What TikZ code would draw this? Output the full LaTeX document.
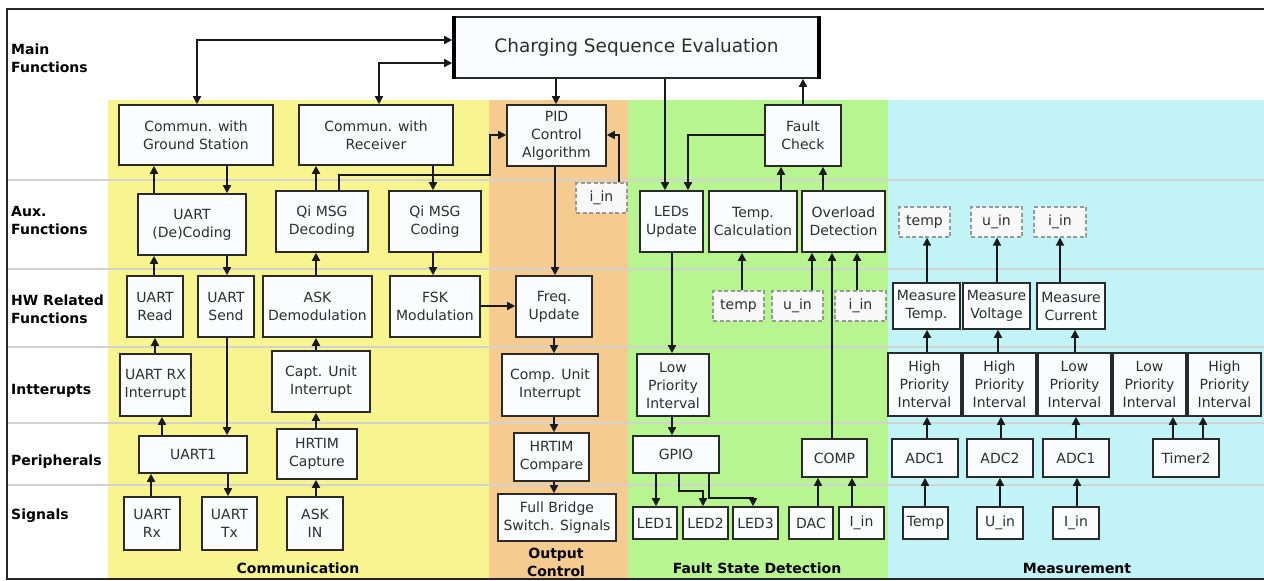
\documentclass[tikz,border=0pt]{standalone}
\usepackage{fontspec}
\setmainfont{DejaVu Sans}
\usetikzlibrary{arrows.meta}
\definecolor{cyel}{HTML}{F8F48F}
\definecolor{corg}{HTML}{F5CB8F}
\definecolor{cgrn}{HTML}{B6F58F}
\definecolor{ccyn}{HTML}{C1F3F7}
\definecolor{boxfill}{HTML}{FBFCFE}
\definecolor{boxline}{HTML}{2A2A2A}
\newcommand\bx[7][]{\node[box,#1,minimum width={(#5-#3)*1pt},minimum height={(#6-#4)*1pt}] (#2) at ({(#3+#5)/2},{(#4+#6)/2}) {#7};}
\begin{document}
\begin{tikzpicture}[x=1pt,y=-1pt,
  box/.style={draw=boxline,line width=1.6pt,fill=boxfill,inner sep=0pt,align=center,text=black!82,font=\fontsize{14}{18}\selectfont},
  dbox/.style={draw=gray!80,dash pattern=on 4pt off 2.5pt,line width=1.2pt,fill=gray!5},
  arr/.style={line width=1.6pt,draw=black!90,-{Triangle[length=8pt,width=8pt]}},
  arrb/.style={line width=1.6pt,draw=black!90,{Triangle[length=8pt,width=8pt]}-{Triangle[length=8pt,width=8pt]}},
  rowlab/.style={anchor=west,align=left,font=\bfseries\fontsize{14}{18}\selectfont,inner sep=0pt},
  collab/.style={align=center,font=\bfseries\fontsize{14}{18}\selectfont,inner sep=0pt},
  sep/.style={draw=gray!35,line width=1.2pt}]
\useasboundingbox (0,0) rectangle (1264,581);
\fill[white] (0,0) rectangle (1264,581);
% column backgrounds
\fill[cyel] (108,100) rectangle (489,579);
\fill[corg] (489,100) rectangle (628,579);
\fill[cgrn] (628,100) rectangle (888,579);
\fill[ccyn] (888,100) rectangle (1264,579);
% row separators
\foreach \yy in {180,269,347,423,485} \draw[sep] (7,\yy) -- (1264,\yy);
% frame
\draw[line width=1.6pt,black!85] (1264,9) -- (7,9) -- (7,579) -- (1264,579);
% row labels
\node[rowlab] (lmain) at (11,58) {Main\\Functions};
\node[rowlab] (laux) at (11,220) {Aux.\\Functions};
\node[rowlab] (lhw) at (11,309) {HW Related\\Functions};
\node[rowlab] (lint) at (11,391) {Intterupts};
\node[rowlab] (lper) at (11,462) {Peripherals};
\node[rowlab] (lsig) at (11,516) {Signals};
% column labels
\node[collab] (ccom) at (298,568) {Communication};
\node[collab] (cout) at (556,562) {Output\\Control};
\node[collab] (cfsd) at (757,568) {Fault State Detection};
\node[collab] (cmea) at (1077,568) {Measurement};
% main
\bx[font=\fontsize{18.5}{22}\selectfont]{cse}{453}{17}{820}{78}{Charging Sequence Evaluation}
\fill[black] (cse.north west) rectangle ([xshift=4pt]cse.south west);
\fill[black] ([xshift=-4pt]cse.north east) rectangle (cse.south east);
\bx{gs}{119}{105}{273}{165}{Commun. with\\Ground Station}
\bx{rcv}{299}{105}{453}{165}{Commun. with\\Receiver}
\bx{pid}{507}{105}{606}{166}{PID\\Control\\Algorithm}
\bx{fc}{765}{105}{841}{166}{Fault\\Check}
\bx[dbox]{iina}{576}{183}{627}{213}{i\_in}
% aux
\bx{ud}{138}{194}{246}{255}{UART\\(De)Coding}
\bx{qdec}{276}{191}{368}{252}{Qi MSG\\Decoding}
\bx{qcod}{389}{191}{481}{252}{Qi MSG\\Coding}
\bx{leds}{640}{191}{703}{252}{LEDs\\Update}
\bx{tcal}{709}{191}{797}{252}{Temp.\\Calculation}
\bx{ovl}{802}{191}{885}{252}{Overload\\Detection}
\bx[dbox]{mtemp}{899}{207}{950}{237}{temp}
\bx[dbox]{muin}{971}{207}{1022}{237}{u\_in}
\bx[dbox]{miin}{1034}{207}{1086}{237}{i\_in}
% hw
\bx{urd}{127}{276}{183}{337}{UART\\Read}
\bx{usd}{198}{276}{254}{337}{UART\\Send}
\bx{askd}{263}{276}{372}{337}{ASK\\Demodulation}
\bx{fsk}{390}{276}{480}{337}{FSK\\Modulation}
\bx{frq}{516}{276}{592}{337}{Freq.\\Update}
\bx[dbox]{gtemp}{713}{291}{764}{321}{temp}
\bx[dbox]{guin}{772}{291}{823}{321}{u\_in}
\bx[dbox]{giin}{835}{291}{886}{321}{i\_in}
\bx{mt}{893}{283}{960}{329}{Measure\\Temp.}
\bx{mv}{963}{283}{1030}{329}{Measure\\Voltage}
\bx{mc}{1037}{283}{1105}{329}{Measure\\Current}
% interrupts
\bx{urx}{120}{354}{191}{416}{UART RX\\Interrupt}
\bx{capt}{272}{351}{370}{412}{Capt. Unit\\Interrupt}
\bx{cmp}{502}{354}{598}{416}{Comp. Unit\\Interrupt}
\bx{lpi}{637}{354}{709}{416}{Low\\Priority\\Interval}
\bx{ha}{888}{353}{961}{416}{High\\Priority\\Interval}
\bx{hb}{963}{353}{1036}{416}{High\\Priority\\Interval}
\bx{lc}{1038}{353}{1111}{416}{Low\\Priority\\Interval}
\bx{ld}{1113}{353}{1186}{416}{Low\\Priority\\Interval}
\bx{he}{1188}{353}{1261}{416}{High\\Priority\\Interval}
% peripherals
\bx{uart}{139}{436}{247}{473}{UART1}
\bx{hrc}{277}{429}{357}{479}{HRTIM\\Capture}
\bx{hrcmp}{514}{433}{589}{481}{HRTIM\\Compare}
\bx{gpio}{633}{436}{719}{473}{GPIO}
\bx{comp}{802}{439}{867}{477}{COMP}
\bx{adca}{892}{439}{958}{477}{ADC1}
\bx{adcb}{967}{439}{1033}{477}{ADC2}
\bx{adcc}{1043}{439}{1109}{477}{ADC1}
\bx{tim}{1153}{439}{1219}{477}{Timer2}
% signals
\bx{urxs}{124}{497}{180}{550}{UART\\Rx}
\bx{utxs}{202}{497}{257}{550}{UART\\Tx}
\bx{askin}{287}{497}{343}{550}{ASK\\IN}
\bx{fb}{498}{494}{616}{541}{Full Bridge\\Switch. Signals}
\bx{leda}{633}{507}{677}{539}{LED1}
\bx{ledb}{683}{507}{728}{539}{LED2}
\bx{ledc}{733}{507}{778}{539}{LED3}
\bx{dac}{789}{507}{833}{539}{DAC}
\bx{iinc}{839}{507}{884}{539}{I\_in}
\bx{stemp}{903}{507}{948}{539}{Temp}
\bx{suin}{977}{507}{1023}{539}{U\_in}
\bx{siin}{1053}{507}{1099}{539}{I\_in}
% connectors: main
\draw[arrb] (gs.north -| 197,0) |- (cse.west |- 0,40);
\draw[arrb] (rcv.north -| 379,0) |- (cse.west |- 0,63);
\draw[arr] (cse.south -| 556,0) -- (pid.north -| 556,0);
\draw[arr] (cse.south -| 665,0) -- (leds.north -| 665,0);
\draw[arr] (fc.west |- 0,135) -| (leds.north -| 688,0);
\draw[arr] (fc.north) -- (fc.north |- cse.south);
\draw[arr] (tcal.north -| 781,0) -- (fc.south -| 781,0);
\draw[arr] (ovl.north -| 823,0) -- (fc.south -| 823,0);
% communication
\draw[arr] (ud.north -| 154,0) -- (gs.south -| 154,0);
\draw[arr] (gs.south -| 227,0) -- (ud.north -| 227,0);
\draw[arr] (qdec.north -| 316,0) -- (rcv.south -| 316,0);
\draw[arr] (rcv.south -| 433,0) -- (qcod.north -| 433,0);
\draw[arr] (qdec.north -| 339,0) |- (490,175) |- (pid.west |- 0,135);
\draw[arr] (iina.north -| 619,0) |- (pid.east |- 0,135);
\draw[arr] (urd.north -| 154,0) -- (ud.south -| 154,0);
\draw[arr] (ud.south -| 227,0) -- (usd.north -| 227,0);
\draw[arr] (askd.north -| 316,0) -- (qdec.south -| 316,0);
\draw[arr] (qcod.south -| 433,0) -- (fsk.north -| 433,0);
\draw[arr] (fsk.east |- 0,306) -- (frq.west |- 0,306);
\draw[arr] (urx.north -| 155,0) -- (urd.south -| 155,0);
\draw[arr] (uart.north -| 162,0) -- (urx.south -| 162,0);
\draw[arr] (usd.south -| 227,0) -- (uart.north -| 227,0);
\draw[arr] (hrc.north -| 316,0) -- (capt.south -| 316,0);
\draw[arr] (capt.north -| 316,0) -- (askd.south -| 316,0);
\draw[arr] (urxs.north -| 151,0) -- (uart.south -| 151,0);
\draw[arr] (uart.south -| 228,0) -- (utxs.north -| 228,0);
\draw[arr] (askin.north -| 316,0) -- (hrc.south -| 316,0);
% output control
\draw[arr] (pid.south -| 555,0) -- (frq.north -| 555,0);
\draw[arr] (frq.south -| 554,0) -- (cmp.north -| 554,0);
\draw[arr] (cmp.south -| 554,0) -- (hrcmp.north -| 554,0);
\draw[arr] (hrcmp.south -| 554,0) -- (fb.north -| 554,0);
% fault state detection
\draw[arr] (gtemp.north -| 742,0) -- (tcal.south -| 742,0);
\draw[arr] (guin.north -| 812,0) -- (ovl.south -| 812,0);
\draw[arr] (giin.north -| 857,0) -- (ovl.south -| 857,0);
\draw[arr] (comp.north -| 832,0) -- (ovl.south -| 832,0);
\draw[arr] (leds.south -| 672,0) -- (lpi.north -| 672,0);
\draw[arr] (lpi.south -| 672,0) -- (gpio.north -| 672,0);
\draw[arr] (gpio.south -| 656,0) -- (leda.north -| 656,0);
\draw[arr] (gpio.south -| 679,0) |- (703,491) -- (ledb.north -| 703,0);
\draw[arr] (gpio.south -| 709,0) |- (753,498) -- (ledc.north -| 753,0);
\draw[arr] (dac.north -| 818,0) -- (comp.south -| 818,0);
\draw[arr] (iinc.north -| 852,0) -- (comp.south -| 852,0);
% measurement
\draw[arr] (mt.north -| 927,0) -- (mtemp.south -| 927,0);
\draw[arr] (mv.north -| 997,0) -- (muin.south -| 997,0);
\draw[arr] (mc.north -| 1060,0) -- (miin.south -| 1060,0);
\draw[arr] (ha.north -| 927,0) -- (mt.south -| 927,0);
\draw[arr] (hb.north -| 998,0) -- (mv.south -| 998,0);
\draw[arr] (lc.north -| 1075,0) -- (mc.south -| 1075,0);
\draw[arr] (adca.north -| 927,0) -- (ha.south -| 927,0);
\draw[arr] (adcb.north -| 1001,0) -- (hb.south -| 1001,0);
\draw[arr] (adcc.north -| 1076,0) -- (lc.south -| 1076,0);
\draw[arr] (tim.north -| 1173,0) -- (ld.south -| 1173,0);
\draw[arr] (tim.north -| 1203,0) -- (he.south -| 1203,0);
\draw[arr] (stemp.north -| 925,0) -- (adca.south -| 925,0);
\draw[arr] (suin.north -| 1000,0) -- (adcb.south -| 1000,0);
\draw[arr] (siin.north -| 1077,0) -- (adcc.south -| 1077,0);
\end{tikzpicture}
\end{document}
